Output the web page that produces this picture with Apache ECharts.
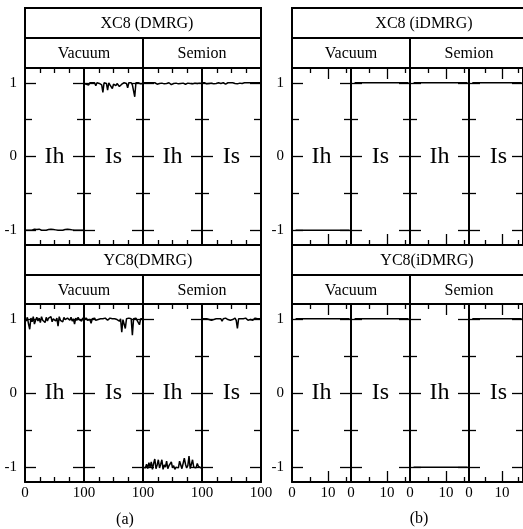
<!DOCTYPE html>
<html>
<head>
<meta charset="utf-8">
<script src="https://cdn.jsdelivr.net/npm/echarts@6.0.0/dist/echarts.min.js"></script>
<style>
html,body{margin:0;padding:0;background:#fff;}
#chart{width:523px;height:529px;}
</style>
</head>
<body>
<div id="chart"></div>
<script>
// ---------- data ----------
const dmrgSteps = [0,2,4,6,8,10,12,14,16,18,20,22,24,26,28,30,32,34,36,38,40,42,44,46,48,50,52,54,56,58,60,62,64,66,68,70,72,74,76,78,80,82,84,86,88,90,92,94,96,98,100];
const idmrgSteps = [1,2,3,4,5,6,7,8,9,10,11,12,13,14,15,16];

const columnLabels = ['Ih','Is','Ih','Is'];
const sectorLabels = ['Vacuum','Semion'];
const yTickLabels = [-1,0,1];
const dmrgFirstXLabels = [0,100];
const dmrgXLabels = [100];
const idmrgXLabels = [0,10];

// XC8 (DMRG)
const xc8DmrgVacIh = [-1,-0.99,-1,-0.985,-1,-0.99,-1,-0.995,-0.985,-1,-0.99,-1,-0.985,-0.995,-1,-0.99,-1,-0.985,-1,-0.995,-0.99,-1,-0.985,-1,-0.99,-1,-0.995,-0.985,-1,-0.99,-1,-0.985,-1,-0.995,-0.99,-1,-0.985,-1,-0.99,-1,-0.995,-0.99,-1,-0.985,-1,-0.99,-1,-0.995,-1,-0.99,-1];
const xc8DmrgVacIs = [0.99,1,0.98,1,0.97,1,0.99,1,0.985,1,0.96,1,0.98,0.99,1,0.97,0.87,1,0.98,0.99,0.9,1,0.97,0.99,0.92,0.98,1,0.96,0.99,0.97,0.95,0.97,0.98,0.96,1,0.98,0.99,0.93,1,0.98,1,0.97,0.99,0.81,1,0.98,1,0.99,0.985,1,0.99];
const xc8DmrgSemIh = [1,0.995,1,0.99,1,0.985,1,0.995,1,0.99,1,0.995,0.98,1,0.99,1,0.995,1,0.985,1,0.99,1,1,0.995,0.975,1,0.99,1,0.995,1,0.985,1,0.99,1,0.995,1,0.98,1,0.995,1,0.99,1,0.985,1,0.995,1,0.99,1,0.995,1,0.99];
const xc8DmrgSemIs = [1,0.99,1,0.995,0.985,1,0.99,1,0.995,1,0.985,1,0.99,0.995,1,0.98,0.99,0.975,1,0.985,0.98,0.995,1,0.99,1,0.985,1,0.995,0.99,1,0.985,1,0.995,1,0.99,0.98,1,0.995,1,0.99,1,0.985,1,0.995,1,0.99,1,0.995,1,0.99,1];

// YC8 (DMRG)
const yc8DmrgVacIh = [1,0.97,1.02,0.93,0.86,1.01,0.96,1.03,0.93,0.98,1.02,0.97,1.01,0.95,1.03,0.98,1,0.95,1.02,0.97,1.01,0.99,1.03,0.96,1,1.02,0.97,1.01,0.9,1.03,0.98,1,0.96,1.02,0.99,0.97,1.01,1,0.98,1.02,0.97,1,0.93,1.01,0.98,1.02,0.99,1,0.97,1.01,1];
const yc8DmrgVacIs = [1,0.99,1.01,0.98,1,0.99,0.94,1,0.99,1.01,0.98,1,0.99,1.01,1,0.98,1,0.99,1.01,1,0.98,1,1.01,0.99,1,0.98,1,1.01,0.99,1,0.97,1,0.82,0.99,1,0.87,1,0.98,1.01,0.99,1,0.78,1,0.99,1.01,0.98,1,0.92,1,0.99,1];
const yc8DmrgSemIh = [-1,-0.98,-1.01,-0.96,-1.02,-0.94,-1,-0.93,-1.03,-0.95,-0.89,-1.02,-0.97,-0.9,-1.01,-0.96,-0.9,-1.03,-0.97,-1,-0.92,-1.02,-0.98,-1,-0.93,-1.01,-0.98,-1.03,-1,-0.99,-1.01,-0.92,-0.97,-1.02,-1,-0.88,-0.96,-1.01,-0.98,-0.85,-1.02,-0.96,-0.9,-1,-0.98,-1.01,-0.95,-0.99,-1,-1.01,-1];
const yc8DmrgSemIs = [1,0.99,1,0.98,1,1.01,0.99,1,0.98,1,0.99,1.01,1,0.98,1,0.99,1,0.97,1,0.99,1.01,1,0.99,1,0.98,1,0.99,1,1.01,0.98,0.87,1,0.99,1,0.98,1,0.99,1.01,1,0.98,1,0.99,1,0.98,1,1.01,0.99,1,0.98,1,0.99];

// XC8 (iDMRG)
const xc8IdmrgVacIh = [-1,-1,-1,-1,-1,-1,-1,-1,-1,-1,-1,-1,-1,-1,-1,-1];
const xc8IdmrgVacIs = [1,1,1,1,1,1,1,1,1,1,1,1,1,1,1,1];
const xc8IdmrgSemIh = [1,1,1,1,1,1,1,1,1,1,1,1,1,1,1,1];
const xc8IdmrgSemIs = [1,1,1,1,1,1,1,1,1,1,1,1,1,1,1,1];

// YC8 (iDMRG)
const yc8IdmrgVacIh = [1,1,1,1,1,1,1,1,1,1,1,1,1,1,1,1];
const yc8IdmrgVacIs = [1,1,1,1,1,1,1,1,1,1,1,1,1,1,1,1];
const yc8IdmrgSemIh = [-1,-1,-1,-1,-1,-1,-1,-1,-1,-1,-1,-1,-1,-1,-1,-1];
const yc8IdmrgSemIs = [1,1,1,1,1,1,1,1,1,1,1,1,1,1,1,1];

// ---------- layout ----------
const FONT = '"Liberation Serif", "DejaVu Serif", serif';
const COLW = 59;
const panels = [
  {left:25,  top:68,  h:177, boxTop:8,   title:'XC8 (DMRG)',  titleX:147, kind:'dmrg',  bottom:false,
   data:[xc8DmrgVacIh, xc8DmrgVacIs, xc8DmrgSemIh, xc8DmrgSemIs]},
  {left:25,  top:304, h:178, boxTop:245, title:'YC8(DMRG)',   titleX:148, kind:'dmrg',  bottom:true,
   data:[yc8DmrgVacIh, yc8DmrgVacIs, yc8DmrgSemIh, yc8DmrgSemIs]},
  {left:292, top:68,  h:177, boxTop:8,   title:'XC8 (iDMRG)', titleX:424, kind:'idmrg', bottom:false,
   data:[xc8IdmrgVacIh, xc8IdmrgVacIs, xc8IdmrgSemIh, xc8IdmrgSemIs]},
  {left:292, top:304, h:178, boxTop:245, title:'YC8(iDMRG)',  titleX:427, kind:'idmrg', bottom:true,
   data:[yc8IdmrgVacIh, yc8IdmrgVacIs, yc8IdmrgSemIh, yc8IdmrgSemIs]}
];

const grid = [], xAxis = [], yAxis = [], series = [], graphic = [];
const lineAx = {show:true, onZero:false, lineStyle:{color:'#000', width:2}};
const noLine = {show:false, onZero:false};
const labelStyle = {color:'#000', fontFamily:FONT, fontSize:15};

function addGrid(g){ grid.push(g); return grid.length-1; }

panels.forEach(p => {
  const xs = p.kind === 'dmrg' ? dmrgSteps : idmrgSteps;
  const xmax = p.kind === 'dmrg' ? 100 : 16.4;
  for (let c = 0; c < 4; c++) {
    const gl = p.left + c*COLW;
    // main grid
    const gi = addGrid({left:gl, top:p.top, width:COLW, height:p.h, containLabel:false});
    const xb = xAxis.length;
    let xLabelVals = [];
    if (p.bottom) xLabelVals = p.kind === 'dmrg' ? (c === 0 ? dmrgFirstXLabels : dmrgXLabels) : idmrgXLabels;
    const xTickVals = p.kind === 'dmrg' ? [25,50,75] : [5,15];
    xAxis.push({gridIndex:gi, type:'value', position:'bottom', min:0, max:xmax,
      axisLine:lineAx, splitLine:{show:false},
      axisTick:{show:true, inside:true, length:5, customValues:xTickVals, lineStyle:{color:'#000', width:1.3}},
      axisLabel:{show:xLabelVals.length>0, customValues:xLabelVals, margin:4, ...labelStyle}});
    xAxis.push({gridIndex:gi, type:'value', position:'top', min:0, max:xmax,
      axisLine:lineAx, splitLine:{show:false},
      axisTick:{show:true, inside:true, length:5, customValues:xTickVals, lineStyle:{color:'#000', width:1.3}},
      axisLabel:{show:false}});
    const yb = yAxis.length;
    yAxis.push({gridIndex:gi, type:'value', position:'left', min:-1.2, max:1.2,
      axisLine:lineAx, splitLine:{show:false},
      axisTick:{show:true, inside:true, length:11, customValues:yTickLabels, lineStyle:{color:'#000', width:1.3}},
      axisLabel:{show:c===0, customValues:yTickLabels, margin:8, ...labelStyle}});
    yAxis.push({gridIndex:gi, type:'value', position:'right', min:-1.2, max:1.2,
      axisLine:lineAx, splitLine:{show:false},
      axisTick:{show:true, inside:true, length:11, customValues:yTickLabels, lineStyle:{color:'#000', width:1.3}},
      axisLabel:{show:false}});
    const vals = p.data[c];
    const pts = [];
    for (let i = 0; i < Math.min(xs.length, vals.length); i++) pts.push([xs[i], vals[i]]);
    series.push({type:'line', xAxisIndex:xb, yAxisIndex:yb, data:pts, showSymbol:false, symbol:'none',
      lineStyle:{color:'#000', width:1.5}, z:5, silent:true});

    // overlay grid for the secondary ticks
    const go = addGrid({left:gl, top:p.top, width:COLW, height:p.h, containLabel:false});
    const bigX = p.kind === 'idmrg' ? [10] : [];
    ['bottom','top'].forEach(pos => {
      xAxis.push({gridIndex:go, type:'value', position:pos, min:0, max:xmax,
        axisLine:noLine, splitLine:{show:false}, axisLabel:{show:false},
        axisTick:{show:bigX.length>0, inside:true, length:11, customValues:bigX, lineStyle:{color:'#000', width:1.3}}});
    });
    ['left','right'].forEach(pos => {
      yAxis.push({gridIndex:go, type:'value', position:pos, min:-1.2, max:1.2,
        axisLine:noLine, splitLine:{show:false}, axisLabel:{show:false},
        axisTick:{show:true, inside:true, length:7, customValues:[-0.5,0.5], lineStyle:{color:'#000', width:1.3}}});
    });

    // column label at y = 0
    graphic.push({type:'text', x:gl + COLW/2, y:p.top + p.h/2, z:10,
      style:{text:columnLabels[c], fill:'#000', font:'24px ' + FONT, textAlign:'center', textVerticalAlign:'middle'}});
  }
  // header boxes
  const W4 = COLW*4;
  const subTop = p.boxTop + 30;
  graphic.push({type:'rect', shape:{x:p.left, y:p.boxTop, width:W4, height:30}, style:{fill:'none', stroke:'#000', lineWidth:2}, z:8});
  graphic.push({type:'rect', shape:{x:p.left, y:subTop, width:W4, height:p.top-subTop}, style:{fill:'none', stroke:'#000', lineWidth:2}, z:8});
  graphic.push({type:'line', shape:{x1:p.left+2*COLW, y1:subTop, x2:p.left+2*COLW, y2:p.top}, style:{stroke:'#000', lineWidth:2}, z:8});
  graphic.push({type:'text', x:p.titleX, y:p.boxTop+16, z:10,
    style:{text:p.title, fill:'#000', font:'16px ' + FONT, textAlign:'center', textVerticalAlign:'middle'}});
  for (let s = 0; s < 2; s++) {
    graphic.push({type:'text', x:p.left + COLW + s*2*COLW, y:subTop + (p.top-subTop)/2 + 1, z:10,
      style:{text:sectorLabels[s], fill:'#000', font:'16px ' + FONT, textAlign:'center', textVerticalAlign:'middle'}});
  }
});
graphic.push({type:'text', x:125, y:520, z:10,
  style:{text:'(a)', fill:'#000', font:'16px ' + FONT, textAlign:'center', textVerticalAlign:'middle'}});
graphic.push({type:'text', x:419, y:519, z:10,
  style:{text:'(b)', fill:'#000', font:'16px ' + FONT, textAlign:'center', textVerticalAlign:'middle'}});

const chart = echarts.init(document.getElementById('chart'), null, {renderer:'canvas'});
chart.setOption({
  animation:false,
  backgroundColor:'#fff',
  grid, xAxis, yAxis, series, graphic
});
</script>
</body>
</html>
